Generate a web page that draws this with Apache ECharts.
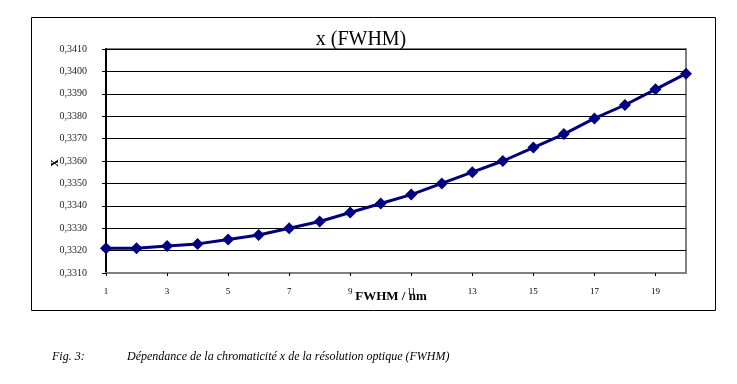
<!DOCTYPE html>
<html><head><meta charset="utf-8">
<script src="https://cdn.jsdelivr.net/npm/echarts@6/dist/echarts.min.js"></script>
<style>html,body{margin:0;padding:0;background:#fff}#c{width:737px;height:384px}</style>
</head><body><div id="c"></div>
<script>
const categories = ['1','2','3','4','5','6','7','8','9','10','11','12','13','14','15','16','17','18','19','20'];
const xValues = [0.3321,0.3321,0.3322,0.3323,0.3325,0.3327,0.3330,0.3333,0.3337,0.3341,0.3345,0.3350,0.3355,0.3360,0.3366,0.3372,0.3379,0.3385,0.3392,0.3399];
const titleText = 'x (FWHM)';
const xAxisName = 'FWHM / nm';
const yAxisName = 'x';
const captionLabel = 'Fig. 3:';
const captionText = 'Dépendance de la chromaticité x de la résolution optique (FWHM)';

const serif = '"Liberation Serif","DejaVu Serif",serif';
const chart = echarts.init(document.getElementById('c'));
chart.setOption({
  animation: false,
  grid: {left: 106, top: 49, width: 580, height: 224, show: true, borderColor: '#808080', borderWidth: 2, backgroundColor: 'transparent'},
  xAxis: {
    type: 'category', data: categories, boundaryGap: false,
    axisLine: {lineStyle: {color: '#808080', width: 2}},
    axisTick: {show: true, interval: 1, length: 3, lineStyle: {color: '#000'}},
    axisLabel: {interval: 1, color: '#000', fontFamily: serif, fontSize: 9, margin: 14},
    splitLine: {show: false}
  },
  yAxis: {
    type: 'value', min: 0.3310, max: 0.3410, interval: 0.001,
    axisLine: {show: true, lineStyle: {color: '#000', width: 2}},
    axisTick: {show: true, length: 4, lineStyle: {color: '#000'}},
    axisLabel: {color: '#222', fontFamily: serif, fontSize: 10, margin: 19,
      formatter: v => v.toFixed(4).replace('.', ',')},
    splitLine: {show: true, lineStyle: {color: '#000', width: 1}}
  },
  series: [{
    type: 'line', data: xValues, symbol: 'diamond', symbolSize: 12,
    lineStyle: {color: '#000080', width: 3}, itemStyle: {color: '#000080'}
  }],
  graphic: [
    {type: 'rect', shape: {x: 31.5, y: 17.5, width: 684, height: 293}, style: {fill: 'none', stroke: '#000', lineWidth: 1}, z: -10},
    {type: 'text', x: 361, y: 40, style: {text: titleText, font: '20px ' + serif, fill: '#000', align: 'center', verticalAlign: 'middle'}},
    {type: 'text', x: 391, y: 297, style: {text: xAxisName, font: 'bold 13px ' + serif, fill: '#000', align: 'center', verticalAlign: 'middle'}},
    {type: 'text', x: 54, y: 163, rotation: Math.PI / 2, style: {text: yAxisName, font: 'bold 14px ' + serif, fill: '#000', align: 'center', verticalAlign: 'middle'}},
    {type: 'text', x: 52, y: 357, style: {text: captionLabel, font: 'italic 12px ' + serif, fill: '#000', verticalAlign: 'middle'}},
    {type: 'text', x: 127, y: 357, style: {text: captionText, font: 'italic 12px ' + serif, fill: '#000', verticalAlign: 'middle'}}
  ]
});
</script></body></html>
